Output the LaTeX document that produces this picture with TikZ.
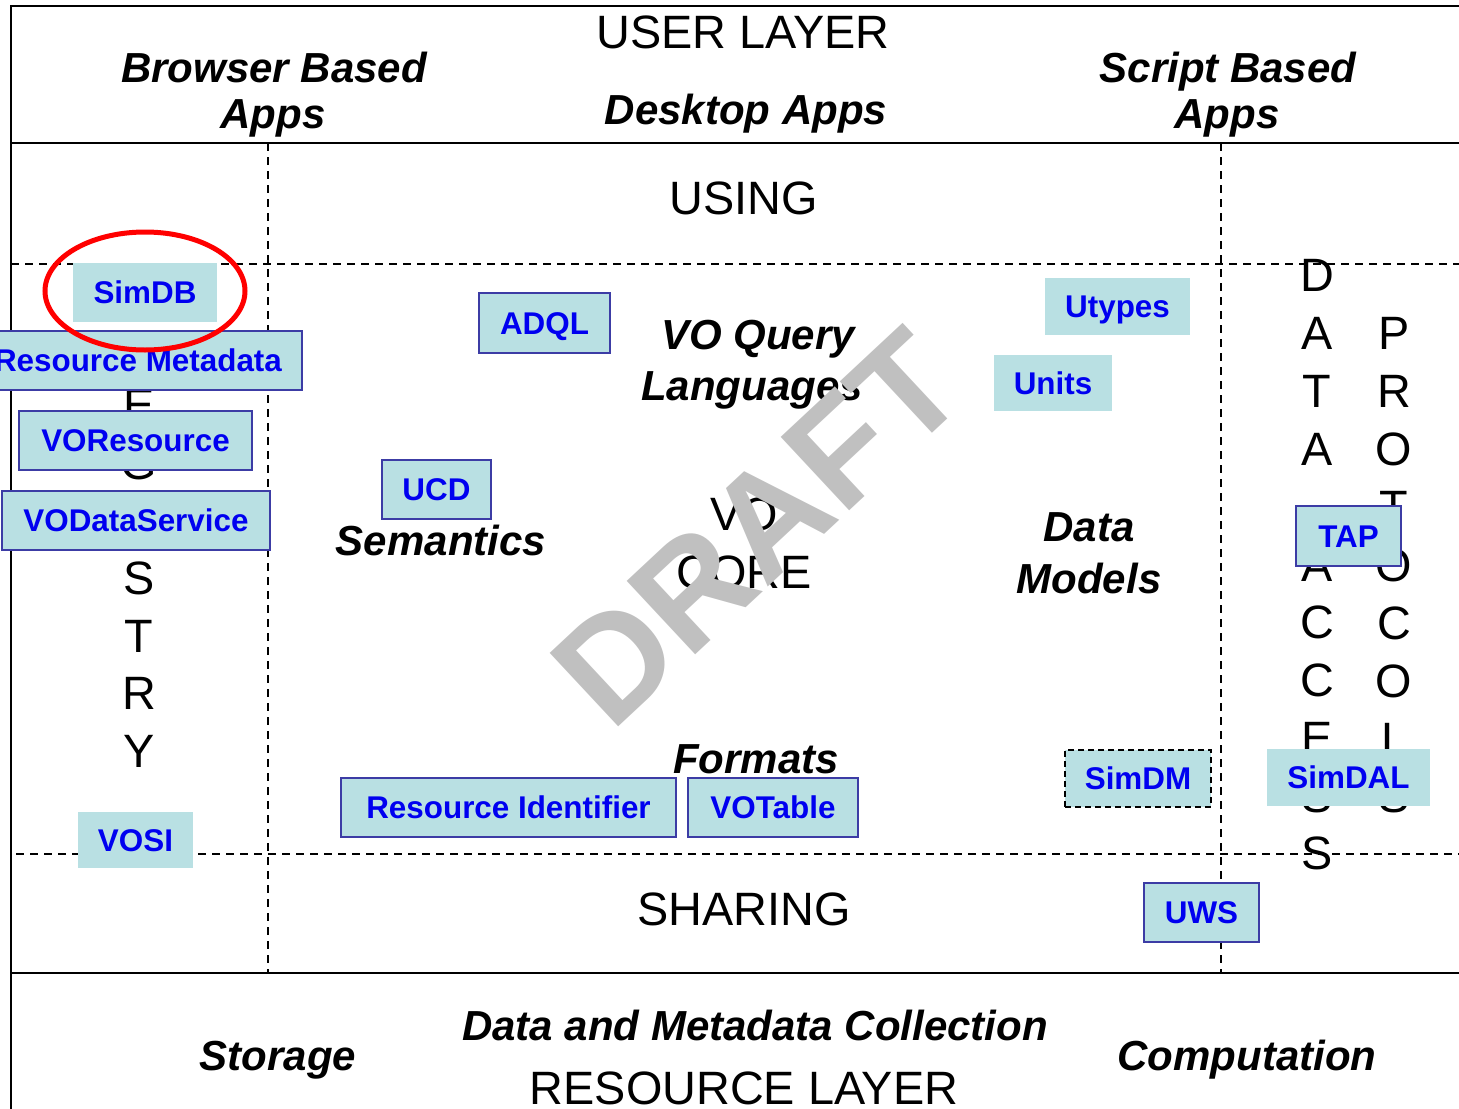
\documentclass[tikz,border=0pt]{standalone}
\usepackage{fontspec}
\setmainfont{Liberation Sans}
\definecolor{boxfill}{RGB}{185,224,227}
\definecolor{boxline}{RGB}{60,60,165}
\definecolor{boxtext}{RGB}{0,0,240}
\definecolor{draftgray}{RGB}{192,192,192}
\begin{document}
\begin{tikzpicture}[x=0.5pt,y=-0.5pt,
  frame/.style={line width=1pt},
  dashline/.style={line width=1pt, dash pattern=on 4pt off 3pt},
  box/.style={fill=boxfill, text=boxtext, font=\fontsize{15.7}{18}\selectfont\bfseries, inner sep=0pt, text height=11.2pt, text depth=0pt},
  bbox/.style={box, draw=boxline, line width=1pt},
  dbox/.style={box, draw=black, line width=1pt, dash pattern=on 3pt off 2pt},
  big/.style={font=\fontsize{23.4}{28}\selectfont, inner sep=0pt, anchor=base},
  ital/.style={font=\fontsize{21}{23}\selectfont\bfseries\itshape, inner sep=0pt, anchor=base},
  letter/.style={font=\fontsize{23.4}{28}\selectfont, inner sep=0pt, text height=16.75pt, text depth=0pt},
]
\clip (0,0) rectangle (1459,1108);
% frame lines
\draw[frame] (1480,6) -- (11,6) -- (11,1130);
\draw[frame] (11,143) -- (1480,143);
\draw[frame] (11,973) -- (1480,973);
\draw[dashline] (11,264) -- (1480,264);
\draw[dashline] (16,854) -- (1480,854);
\draw[dashline] (268,143) -- (268,973);
\draw[dashline] (1221,143) -- (1221,973);
% vertical letters
\foreach \l [count=\i] in {R,E,G,I,S,T,R,Y}
  \node[letter] (reg\i) at (139,{347+57.7*(\i-1)}) {\l};
\foreach \l/\y [count=\i] in {D/275,A/333,T/391,A/449,A/565,C/622,C/680,E/738,S/796,S/853}
  \node[letter] (acc\i) at (1317,\y) {\l};
\foreach \l [count=\i] in {P,R,O,T,O,C,O,L,S}
  \node[letter] (pro\i) at (1394,{333+57.9*(\i-1)}) {\l};
% titles
\node[big] (user) at (743,48.5) {USER LAYER};
\node[ital] (browser1) at (274,82) {Browser Based};
\node[ital] (browser2) at (273,128) {Apps};
\node[ital] (desktop) at (746,124) {Desktop Apps};
\node[ital] (script1) at (1228,82) {Script Based};
\node[ital] (script2) at (1227,128) {Apps};
\node[big] (using) at (744,214) {USING};
\node[ital] (voq1) at (758,349) {VO Query};
\node[ital] (voq2) at (752,400) {Languages};
\node[ital] (sem) at (441,555) {Semantics};
\node[big] (vo1) at (744,530) {VO};
\node[big] (vo2) at (744,588) {CORE};
\node[ital] (dm1) at (1089,541) {Data};
\node[ital] (dm2) at (1089,593) {Models};
\node[ital] (fmt) at (756,773) {Formats};
\node[big] (sharing) at (744,925) {SHARING};
\node[ital] (storage) at (278,1070) {Storage};
\node[ital] (dmc) at (755,1040) {Data and Metadata Collection};
\node[ital] (comp) at (1247,1070) {Computation};
\node[big] (reslayer) at (744,1104) {RESOURCE LAYER};
% boxes
\node[box, minimum width=72pt, minimum height=29.5pt] (simdb) at (145,292.5) {SimDB};
\node[bbox, minimum width=164pt, minimum height=29.5pt] (resmeta) at (138,360.5) {Resource Metadata};
\node[bbox, minimum width=116.5pt, minimum height=29.5pt] (vores) at (135.5,440.5) {VOResource};
\node[bbox, minimum width=134pt, minimum height=29.5pt] (vods) at (136,520.5) {VODataService};
\node[box, minimum width=57.5pt, minimum height=28pt] (vosi) at (135.5,840) {VOSI};
\node[bbox, minimum width=65.5pt, minimum height=30pt] (adql) at (544.5,323) {ADQL};
\node[bbox, minimum width=54.5pt, minimum height=29.5pt] (ucd) at (436.5,489.5) {UCD};
\node[bbox, minimum width=167.5pt, minimum height=29.5pt] (resid) at (508.5,807.5) {Resource Identifier};
\node[bbox, minimum width=85pt, minimum height=29.5pt] (votable) at (773,807.5) {VOTable};
\node[box, minimum width=72.5pt, minimum height=28.5pt] (utypes) at (1117.5,306.5) {Utypes};
\node[box, minimum width=59pt, minimum height=28pt] (units) at (1053,383) {Units};
\node[dbox, minimum width=73pt, minimum height=28.5pt] (simdm) at (1138,778.5) {SimDM};
\node[bbox, minimum width=52.5pt, minimum height=30pt] (tap) at (1348.5,536) {TAP};
\node[box, minimum width=81.5pt, minimum height=28.5pt] (simdal) at (1348.5,777.5) {SimDAL};
\node[bbox, minimum width=57.5pt, minimum height=29.5pt] (uws) at (1201.5,912.5) {UWS};
% highlight
\draw[red, line width=2.5pt] (145,291) ellipse [x radius=100, y radius=59];
% watermark
\node[rotate=43, text=draftgray, font=\fontsize{73}{80}\selectfont\bfseries, inner sep=0pt] (draft) at (758,528) {DRAFT};
\end{tikzpicture}
\end{document}
